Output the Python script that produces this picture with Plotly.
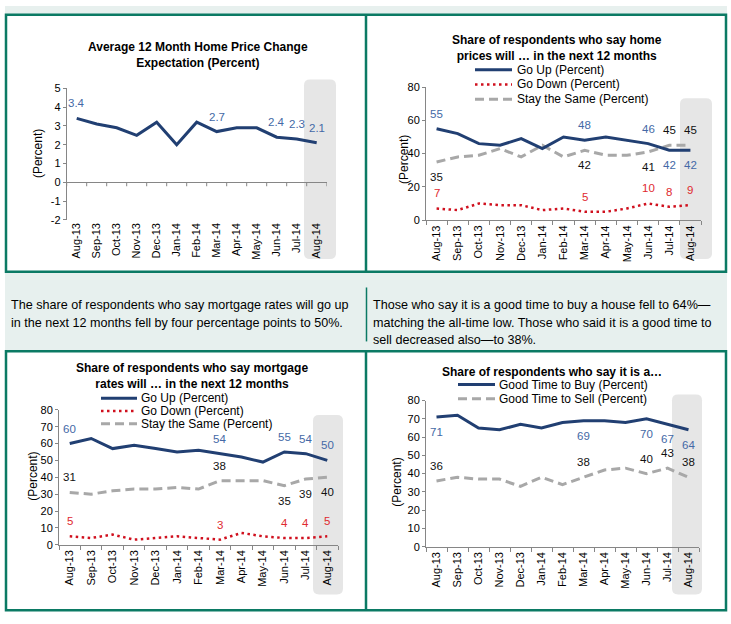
import plotly.graph_objects as go

W, H = 731, 624
FONT = "Arial, 'Liberation Sans', sans-serif"

# ---------------- data ----------------
months = ["Aug-13", "Sep-13", "Oct-13", "Nov-13", "Dec-13", "Jan-14", "Feb-14",
          "Mar-14", "Apr-14", "May-14", "Jun-14", "Jul-14", "Aug-14"]

price_change = [3.4, 3.1, 2.9, 2.5, 3.2, 2.0, 3.2, 2.7, 2.9, 2.9, 2.4, 2.3, 2.1]

price_up = [55, 52, 46, 45, 49, 43, 50, 48, 50, 48, 46, 42, 42]
price_down = [7, 6, 10, 9, 9, 6, 7, 5, 5, 7, 10, 8, 9]
price_same = [35, 38, 39, 43, 38, 45, 38, 42, 39, 39, 41, 45, 45]

rate_up = [60, 63, 57, 59, 57, 55, 56, 54, 52, 49, 55, 54, 50]
rate_down = [5, 4, 6, 3, 4, 5, 4, 3, 7, 5, 4, 4, 5]
rate_same = [31, 30, 32, 33, 33, 34, 33, 38, 38, 38, 35, 39, 40]

good_buy = [71, 72, 65, 64, 67, 65, 68, 69, 69, 68, 70, 67, 64]
good_sell = [36, 38, 37, 37, 33, 38, 34, 38, 42, 43, 40, 43, 38]

labelled = [0, 7, 10, 11, 12]

y_ticks_1 = [-2, -1, 0, 1, 2, 3, 4, 5]

titles = [
    "Average 12 Month Home Price Change<br>Expectation (Percent)",
    "Share of respondents who say home<br>prices will … in the next 12 months",
    "Share of respondents who say mortgage<br>rates will … in the next 12 months",
    "Share of respondents who say it is a…",
]
text_left = ["The share of respondents who say mortgage rates will go up",
             "in the next 12 months fell by four percentage points to 50%."]
text_right = ["Those who say it is a good time to buy a house fell to 64%—",
              "matching the all-time low. Those who said it is a good time to",
              "sell decreased also—to 38%."]

# ---------------- styles ----------------
NAVY = "#213f72"
RED = "#d0101e"
GRAY = "#a8a8a8"
LBL_BLUE = "#4469a6"
LBL_RED = "#e02a2f"
LBL_BLACK = "#111111"
GREEN = "#0b7a64"
LIGHT = "#e7f0ee"
AXIS = "#868686"
SHADE = "#e6e6e6"

STY = {
    "up": dict(color=NAVY, width=3, dash="solid"),
    "down": dict(color=RED, width=2.5, dash="2.5px,3.5px"),
    "same": dict(color=GRAY, width=3, dash="9px,5px"),
}


def X(px):
    return px / W


def Y(py):
    return 1 - py / H


def rrect(x0, y0, x1, y1, r):
    pts = [
        ("M", [(x0 + r, y0)]), ("L", [(x1 - r, y0)]), ("Q", [(x1, y0), (x1, y0 + r)]),
        ("L", [(x1, y1 - r)]), ("Q", [(x1, y1), (x1 - r, y1)]), ("L", [(x0 + r, y1)]),
        ("Q", [(x0, y1), (x0, y1 - r)]), ("L", [(x0, y0 + r)]), ("Q", [(x0, y0), (x0 + r, y0)]),
    ]
    s = ""
    for cmd, ps in pts:
        s += cmd + " ".join(f"{X(a):.5f},{Y(b):.5f}" for a, b in ps) + " "
    return s + "Z"


fig = go.Figure()
shapes = []
ann = []

# background & boxes
shapes.append(dict(type="rect", xref="paper", yref="paper", x0=X(5), x1=X(727), y0=Y(352), y1=Y(0),
                   fillcolor=LIGHT, line=dict(width=0), layer="below"))
for (top, bot) in [(9, 271), (352, 616)]:
    shapes.append(dict(type="rect", xref="paper", yref="paper", x0=X(6), x1=X(726), y0=Y(bot), y1=Y(top),
                       fillcolor="white", line=dict(color=GREEN, width=2.5), layer="below"))
    shapes.append(dict(type="line", xref="paper", yref="paper", x0=X(366), x1=X(366), y0=Y(bot), y1=Y(top),
                       line=dict(color=GREEN, width=2.5), layer="below"))
shapes.append(dict(type="line", xref="paper", yref="paper", x0=X(366.5), x1=X(366.5), y0=Y(342), y1=Y(287),
                   line=dict(color=GREEN, width=1.5), layer="below"))

# highlight boxes for latest month
for (a, b, c, d) in [(304, 75, 336, 258), (680, 94, 712, 258), (313, 417, 343, 600), (672, 396, 702, 600)]:
    shapes.append(dict(type="path", xref="paper", yref="paper", path=rrect(a, b, c, d, 6),
                       fillcolor=SHADE, line=dict(width=0), layer="below"))

# subplot domains (pixels): x0, x1, ytop, ybottom, yrange, dtick
panels = [
    (66.7, 326.7, 84.0, 218.0, [-2, 5], 1),
    (426.0, 701.0, 82.7, 218.3, [0, 80], 20),
    (59.0, 338.0, 411.7, 549.3, [0, 80], 10),
    (426.0, 699.0, 402.3, 551.3, [0, 80], 10),
]

layout_axes = {}
for i, (x0, x1, yt, yb, yr, dt) in enumerate(panels):
    n = "" if i == 0 else str(i + 1)
    xa = dict(domain=[X(x0), X(x1)], anchor="y" + n, type="category", categoryorder="array",
              categoryarray=months, range=[-0.5, 12.5], tickangle=-90,
              tickfont=dict(size=11, color="black", family=FONT), showgrid=False, zeroline=False,
              fixedrange=True)
    if i == 0:
        xa.update(showline=False, ticks="")
    else:
        xa.update(showline=True, linecolor=AXIS, linewidth=1, ticks="outside", ticklen=4,
                  tickcolor=AXIS, tickson="boundaries")
    ya = dict(domain=[Y(yb), Y(yt)], anchor="x" + n, range=yr, dtick=dt, showgrid=False,
              showline=True, linecolor=AXIS, linewidth=1, ticks="outside", ticklen=3, tickcolor=AXIS,
              tickfont=dict(size=11, color="black", family=FONT), fixedrange=True,
              zeroline=(i == 0), zerolinecolor=AXIS, zerolinewidth=1)
    if i == 0:
        ya.update(tickmode="array", tickvals=y_ticks_1, ticktext=[str(v) for v in y_ticks_1])
    layout_axes["xaxis" + n] = xa
    layout_axes["yaxis" + n] = ya


def add_series(idx, values, style, lbl_color, side, fmt="{:g}"):
    n = "" if idx == 0 else str(idx + 1)
    fig.add_trace(go.Scatter(x=months, y=values, mode="lines", line=style, showlegend=False,
                             hoverinfo="skip", xaxis="x" + n, yaxis="y" + n))
    for k, j in enumerate(labelled):
        s = side[k] if isinstance(side, list) else side
        ann.append(dict(x=months[j], y=values[j], xref="x" + n, yref="y" + n, text=fmt.format(values[j]),
                        showarrow=False, yshift=15 * s, xanchor="center", yanchor="middle",
                        font=dict(size=11.5, color=lbl_color, family=FONT)))


# panel 1
add_series(0, price_change, dict(color=NAVY, width=3), LBL_BLUE, 1, fmt="{:.1f}")
for k in range(len(months) + 1):
    shapes.append(dict(type="line", xref="x", yref="y", ysizemode="pixel", yanchor=0, y0=0, y1=-4,
                       x0=k - 0.5, x1=k - 0.5, line=dict(color=AXIS, width=1)))

# panel 2
add_series(1, price_same, STY["same"], LBL_BLACK, [-1, -1, -1, 1, 1])
add_series(1, price_down, STY["down"], LBL_RED, 1)
add_series(1, price_up, STY["up"], LBL_BLUE, [1, 1, 1, -1, -1])

# panel 3
add_series(2, rate_same, STY["same"], LBL_BLACK, [1, 1, -1, -1, -1])
add_series(2, rate_down, STY["down"], LBL_RED, 1)
add_series(2, rate_up, STY["up"], LBL_BLUE, 1)

# panel 4
add_series(3, good_sell, STY["same"], LBL_BLACK, 1)
add_series(3, good_buy, STY["up"], LBL_BLUE, -1)

# titles
for t, (cx, cy) in zip(titles, [(198, 50), (557, 43), (192, 377), (552, 373)]):
    ann.append(dict(x=X(cx), y=Y(cy), xref="paper", yref="paper", text="<b>" + t + "</b>",
                    showarrow=False, xanchor="center", yanchor="middle",
                    font=dict(size=12, color="black", family=FONT)))

# y axis titles
for (cx, cy) in [(38, 151), (404, 157), (33, 480), (397, 486)]:
    ann.append(dict(x=X(cx), y=Y(cy), xref="paper", yref="paper", text="(Percent)", textangle=-90,
                    xanchor="center", yanchor="middle",
                    showarrow=False, font=dict(size=12, color="black", family=FONT)))

# legends
legends = [
    (475, 512, 515, [("Go Up (Percent)", "up", 65), ("Go Down (Percent)", "down", 80),
                     ("Stay the Same (Percent)", "same", 95)]),
    (101, 137, 139, [("Go Up (Percent)", "up", 400), ("Go Down (Percent)", "down", 413),
                     ("Stay the Same (Percent)", "same", 426)]),
    (458, 495, 497, [("Good Time to Buy (Percent)", "up", 386), ("Good Time to Sell (Percent)", "same", 400.5)]),
]
for (s0, s1, tx, items) in legends:
    for (name, key, yy) in items:
        shapes.append(dict(type="line", xref="paper", yref="paper", x0=X(s0), x1=X(s1), y0=Y(yy), y1=Y(yy),
                           line=STY[key]))
        ann.append(dict(x=X(tx), y=Y(yy), xref="paper", yref="paper", text=name, showarrow=False,
                        xanchor="left", yanchor="middle", font=dict(size=12, color="black", family=FONT)))

# paragraphs
for lines, x0, y0 in [(text_left, 9, 305), (text_right, 371, 305)]:
    for k, line in enumerate(lines):
        ann.append(dict(x=X(x0), y=Y(y0 + 18 * k), xref="paper", yref="paper", text=line, showarrow=False,
                        xanchor="left", yanchor="middle", font=dict(size=12.6, color="black", family=FONT)))

fig.update_layout(width=W, height=H, margin=dict(l=0, r=0, t=0, b=0), paper_bgcolor="white",
                  plot_bgcolor="rgba(0,0,0,0)", showlegend=False, shapes=shapes, annotations=ann,
                  font=dict(family=FONT), **layout_axes)

fig.write_html("out.html", config={"displayModeBar": False},
               post_script="document.body.style.margin='0px';")
